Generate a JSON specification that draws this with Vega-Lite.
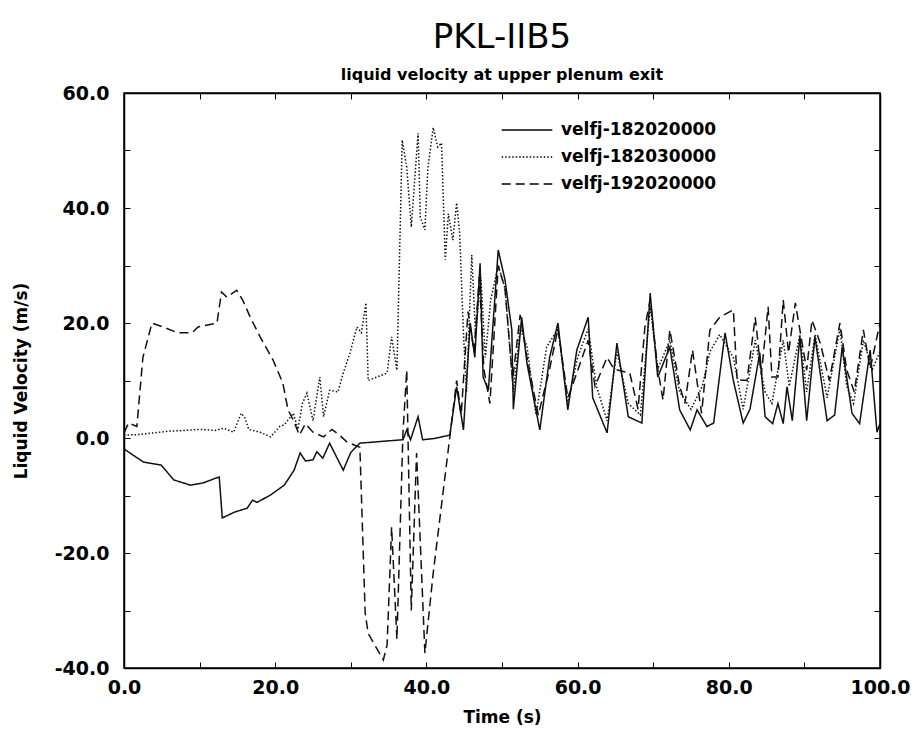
{
  "$schema": "https://vega.github.io/schema/vega-lite/v6.json",
  "width": 756,
  "height": 575,
  "autosize": "none",
  "padding": {"left": 124, "top": 93, "right": 35, "bottom": 63},
  "background": "white",
  "config": {
    "font": "DejaVu Sans",
    "view": {"stroke": "black", "strokeWidth": 1.5},
    "axis": {"grid": false, "labelFlush": false, "domainColor": "black", "domainWidth": 1.5, "tickColor": "black", "tickSize": -6, "tickWidth": 1, "labelColor": "black", "labelFont": "DejaVu Sans", "labelFontWeight": "bold", "labelFontSize": 19, "titleFont": "DejaVu Sans", "titleFontSize": 17, "titleFontWeight": "bold", "titleColor": "black"}
  },
  "title": {"text": "PKL-IIB5", "subtitle": "liquid velocity at upper plenum exit", "anchor": "middle", "font": "DejaVu Sans", "fontSize": 34, "fontWeight": "normal", "color": "black", "subtitleFont": "DejaVu Sans", "subtitleFontSize": 16, "subtitleFontWeight": "bold", "subtitleColor": "black", "offset": 1, "subtitlePadding": 12},
  "data": {"values": [
    {"t":0,"series":"velfj-182020000","v":-1.9},{"t":1,"series":"velfj-182020000","v":-2.8},{"t":2.6,"series":"velfj-182020000","v":-4.2},{"t":4.9,"series":"velfj-182020000","v":-4.7},{"t":6.6,"series":"velfj-182020000","v":-7.3},{"t":8.8,"series":"velfj-182020000","v":-8.2},{"t":10.5,"series":"velfj-182020000","v":-7.8},{"t":12.1,"series":"velfj-182020000","v":-7.0},{"t":12.6,"series":"velfj-182020000","v":-6.8},{"t":13.0,"series":"velfj-182020000","v":-13.9},{"t":14.6,"series":"velfj-182020000","v":-12.9},{"t":16.3,"series":"velfj-182020000","v":-12.2},{"t":17.0,"series":"velfj-182020000","v":-10.8},{"t":17.6,"series":"velfj-182020000","v":-11.2},{"t":19.4,"series":"velfj-182020000","v":-9.9},{"t":21.2,"series":"velfj-182020000","v":-8.2},{"t":22.5,"series":"velfj-182020000","v":-5.6},{"t":23.3,"series":"velfj-182020000","v":-2.6},{"t":24.0,"series":"velfj-182020000","v":-4.0},{"t":25.0,"series":"velfj-182020000","v":-3.8},{"t":25.5,"series":"velfj-182020000","v":-2.4},{"t":26.3,"series":"velfj-182020000","v":-3.5},{"t":27.2,"series":"velfj-182020000","v":-0.9},{"t":28.0,"series":"velfj-182020000","v":-3.0},{"t":29.0,"series":"velfj-182020000","v":-5.6},{"t":30.0,"series":"velfj-182020000","v":-2.5},{"t":31.2,"series":"velfj-182020000","v":-0.9},{"t":34.0,"series":"velfj-182020000","v":-0.6},{"t":36.9,"series":"velfj-182020000","v":-0.3},{"t":37.4,"series":"velfj-182020000","v":1.4},{"t":37.9,"series":"velfj-182020000","v":-0.3},{"t":38.9,"series":"velfj-182020000","v":3.7},{"t":39.5,"series":"velfj-182020000","v":-0.3},{"t":41.0,"series":"velfj-182020000","v":-0.1},{"t":43.1,"series":"velfj-182020000","v":0.5},{"t":44.0,"series":"velfj-182020000","v":8.9},{"t":44.9,"series":"velfj-182020000","v":1.4},{"t":45.8,"series":"velfj-182020000","v":20},{"t":46.4,"series":"velfj-182020000","v":14},{"t":47.1,"series":"velfj-182020000","v":30.4},{"t":47.5,"series":"velfj-182020000","v":10.6},{"t":48.2,"series":"velfj-182020000","v":8.3},{"t":49.5,"series":"velfj-182020000","v":32.7},{"t":50.4,"series":"velfj-182020000","v":27.5},{"t":51.3,"series":"velfj-182020000","v":18.8},{"t":51.5,"series":"velfj-182020000","v":5},{"t":52.6,"series":"velfj-182020000","v":21},{"t":53.3,"series":"velfj-182020000","v":13},{"t":55.0,"series":"velfj-182020000","v":1.4},{"t":56.3,"series":"velfj-182020000","v":14},{"t":57.4,"series":"velfj-182020000","v":20},{"t":58.7,"series":"velfj-182020000","v":4.9},{"t":59.9,"series":"velfj-182020000","v":15.3},{"t":61.4,"series":"velfj-182020000","v":21},{"t":62.0,"series":"velfj-182020000","v":7},{"t":63.9,"series":"velfj-182020000","v":0.9},{"t":65.2,"series":"velfj-182020000","v":16.5},{"t":66.7,"series":"velfj-182020000","v":3.7},{"t":68.5,"series":"velfj-182020000","v":2.6},{"t":69.6,"series":"velfj-182020000","v":25.2},{"t":70.6,"series":"velfj-182020000","v":10.6},{"t":72.2,"series":"velfj-182020000","v":15.8},{"t":73.5,"series":"velfj-182020000","v":4.9},{"t":74.9,"series":"velfj-182020000","v":1.4},{"t":75.8,"series":"velfj-182020000","v":4.9},{"t":77.1,"series":"velfj-182020000","v":2.0},{"t":78.0,"series":"velfj-182020000","v":2.6},{"t":79.5,"series":"velfj-182020000","v":18.3},{"t":80.6,"series":"velfj-182020000","v":10},{"t":81.9,"series":"velfj-182020000","v":2.6},{"t":82.8,"series":"velfj-182020000","v":5},{"t":84.1,"series":"velfj-182020000","v":14.8},{"t":84.8,"series":"velfj-182020000","v":3.7},{"t":85.8,"series":"velfj-182020000","v":2.5},{"t":86.5,"series":"velfj-182020000","v":6},{"t":87.2,"series":"velfj-182020000","v":2.5},{"t":87.7,"series":"velfj-182020000","v":8.9},{"t":88.4,"series":"velfj-182020000","v":3},{"t":89.4,"series":"velfj-182020000","v":17.6},{"t":90.3,"series":"velfj-182020000","v":3},{"t":91.4,"series":"velfj-182020000","v":17.6},{"t":93.0,"series":"velfj-182020000","v":3},{"t":94.0,"series":"velfj-182020000","v":4},{"t":95.0,"series":"velfj-182020000","v":15.8},{"t":96.3,"series":"velfj-182020000","v":4.3},{"t":97.3,"series":"velfj-182020000","v":2.5},{"t":98.7,"series":"velfj-182020000","v":15.3},{"t":99.6,"series":"velfj-182020000","v":1},{"t":100,"series":"velfj-182020000","v":2.5},

    {"t":0,"series":"velfj-182030000","v":0.5},{"t":2,"series":"velfj-182030000","v":0.6},{"t":4,"series":"velfj-182030000","v":0.9},{"t":6,"series":"velfj-182030000","v":1.2},{"t":8,"series":"velfj-182030000","v":1.3},{"t":10,"series":"velfj-182030000","v":1.5},{"t":12,"series":"velfj-182030000","v":1.3},{"t":13.2,"series":"velfj-182030000","v":1.7},{"t":14.5,"series":"velfj-182030000","v":1.0},{"t":15.5,"series":"velfj-182030000","v":4.3},{"t":16.0,"series":"velfj-182030000","v":3.5},{"t":16.5,"series":"velfj-182030000","v":1.5},{"t":18,"series":"velfj-182030000","v":1.0},{"t":19.4,"series":"velfj-182030000","v":0.2},{"t":20.6,"series":"velfj-182030000","v":2.0},{"t":21.2,"series":"velfj-182030000","v":2.3},{"t":22.4,"series":"velfj-182030000","v":4.3},{"t":23,"series":"velfj-182030000","v":1.5},{"t":23.6,"series":"velfj-182030000","v":6},{"t":24.2,"series":"velfj-182030000","v":7.8},{"t":25,"series":"velfj-182030000","v":3},{"t":25.9,"series":"velfj-182030000","v":10.6},{"t":26.4,"series":"velfj-182030000","v":3.7},{"t":27.2,"series":"velfj-182030000","v":8.3},{"t":28.3,"series":"velfj-182030000","v":8},{"t":29,"series":"velfj-182030000","v":11.3},{"t":29.9,"series":"velfj-182030000","v":14.8},{"t":30.8,"series":"velfj-182030000","v":19.3},{"t":31.4,"series":"velfj-182030000","v":18.3},{"t":32,"series":"velfj-182030000","v":23.5},{"t":32.3,"series":"velfj-182030000","v":10},{"t":34.8,"series":"velfj-182030000","v":11.3},{"t":35.4,"series":"velfj-182030000","v":17.6},{"t":36.1,"series":"velfj-182030000","v":11.8},{"t":36.8,"series":"velfj-182030000","v":51.8},{"t":37.4,"series":"velfj-182030000","v":47.1},{"t":38,"series":"velfj-182030000","v":36.7},{"t":38.9,"series":"velfj-182030000","v":53},{"t":39.2,"series":"velfj-182030000","v":38.4},{"t":39.8,"series":"velfj-182030000","v":36.2},{"t":40.2,"series":"velfj-182030000","v":47},{"t":40.9,"series":"velfj-182030000","v":54},{"t":41.5,"series":"velfj-182030000","v":50.6},{"t":42,"series":"velfj-182030000","v":51.3},{"t":42.5,"series":"velfj-182030000","v":31},{"t":42.9,"series":"velfj-182030000","v":39},{"t":43.5,"series":"velfj-182030000","v":34.4},{"t":44,"series":"velfj-182030000","v":40.9},{"t":44.4,"series":"velfj-182030000","v":35.6},{"t":44.9,"series":"velfj-182030000","v":18.3},{"t":45.3,"series":"velfj-182030000","v":8},{"t":46,"series":"velfj-182030000","v":31.8},{"t":46.5,"series":"velfj-182030000","v":18},{"t":47.2,"series":"velfj-182030000","v":28},{"t":47.8,"series":"velfj-182030000","v":14},{"t":48.5,"series":"velfj-182030000","v":24},{"t":49.5,"series":"velfj-182030000","v":30},{"t":50.4,"series":"velfj-182030000","v":26},{"t":51.5,"series":"velfj-182030000","v":8},{"t":52.4,"series":"velfj-182030000","v":19},{"t":53.3,"series":"velfj-182030000","v":16},{"t":54.5,"series":"velfj-182030000","v":4},{"t":55.9,"series":"velfj-182030000","v":15.8},{"t":57.4,"series":"velfj-182030000","v":19},{"t":58.7,"series":"velfj-182030000","v":6},{"t":60,"series":"velfj-182030000","v":14},{"t":61.4,"series":"velfj-182030000","v":19},{"t":62.5,"series":"velfj-182030000","v":9},{"t":63.9,"series":"velfj-182030000","v":3},{"t":65.2,"series":"velfj-182030000","v":15},{"t":66.7,"series":"velfj-182030000","v":6},{"t":68.3,"series":"velfj-182030000","v":4},{"t":69.6,"series":"velfj-182030000","v":23},{"t":70.6,"series":"velfj-182030000","v":12},{"t":72.2,"series":"velfj-182030000","v":17},{"t":73.5,"series":"velfj-182030000","v":8},{"t":75,"series":"velfj-182030000","v":5},{"t":76.5,"series":"velfj-182030000","v":9},{"t":77.5,"series":"velfj-182030000","v":15},{"t":78.8,"series":"velfj-182030000","v":18},{"t":80.6,"series":"velfj-182030000","v":14},{"t":81.9,"series":"velfj-182030000","v":5},{"t":83.5,"series":"velfj-182030000","v":17},{"t":84.8,"series":"velfj-182030000","v":8},{"t":85.7,"series":"velfj-182030000","v":6},{"t":87.2,"series":"velfj-182030000","v":17},{"t":88,"series":"velfj-182030000","v":9},{"t":89.4,"series":"velfj-182030000","v":18},{"t":90.3,"series":"velfj-182030000","v":8},{"t":91.4,"series":"velfj-182030000","v":18},{"t":93,"series":"velfj-182030000","v":7},{"t":94.7,"series":"velfj-182030000","v":19},{"t":95.6,"series":"velfj-182030000","v":9},{"t":96.5,"series":"velfj-182030000","v":6},{"t":97.8,"series":"velfj-182030000","v":17},{"t":99,"series":"velfj-182030000","v":12},{"t":100,"series":"velfj-182030000","v":15},

    {"t":0,"series":"velfj-192020000","v":0.9},{"t":0.6,"series":"velfj-192020000","v":2.6},{"t":1.7,"series":"velfj-192020000","v":2.0},{"t":2.5,"series":"velfj-192020000","v":14},{"t":3.7,"series":"velfj-192020000","v":20},{"t":5.2,"series":"velfj-192020000","v":19.3},{"t":7.1,"series":"velfj-192020000","v":18.3},{"t":9,"series":"velfj-192020000","v":18.3},{"t":9.8,"series":"velfj-192020000","v":19.3},{"t":12.3,"series":"velfj-192020000","v":20},{"t":12.9,"series":"velfj-192020000","v":25.4},{"t":13.6,"series":"velfj-192020000","v":24.5},{"t":14.9,"series":"velfj-192020000","v":25.7},{"t":15.7,"series":"velfj-192020000","v":24},{"t":16.7,"series":"velfj-192020000","v":21},{"t":18,"series":"velfj-192020000","v":17.6},{"t":19.7,"series":"velfj-192020000","v":13.6},{"t":21,"series":"velfj-192020000","v":9.6},{"t":21.7,"series":"velfj-192020000","v":4.9},{"t":22.4,"series":"velfj-192020000","v":3.1},{"t":23.2,"series":"velfj-192020000","v":0.5},{"t":24,"series":"velfj-192020000","v":2.5},{"t":25,"series":"velfj-192020000","v":1.0},{"t":26.4,"series":"velfj-192020000","v":0.2},{"t":27.5,"series":"velfj-192020000","v":1.5},{"t":28.5,"series":"velfj-192020000","v":0.5},{"t":29.5,"series":"velfj-192020000","v":-0.7},{"t":31.2,"series":"velfj-192020000","v":-1.6},{"t":31.9,"series":"velfj-192020000","v":-30.4},{"t":32.3,"series":"velfj-192020000","v":-34},{"t":34.3,"series":"velfj-192020000","v":-38.6},{"t":34.8,"series":"velfj-192020000","v":-36},{"t":35.4,"series":"velfj-192020000","v":-15.5},{"t":36.1,"series":"velfj-192020000","v":-35},{"t":36.9,"series":"velfj-192020000","v":0.9},{"t":37.4,"series":"velfj-192020000","v":11.8},{"t":38,"series":"velfj-192020000","v":-30},{"t":38.7,"series":"velfj-192020000","v":-2.6},{"t":39.8,"series":"velfj-192020000","v":-37.4},{"t":40.9,"series":"velfj-192020000","v":-23.5},{"t":43.1,"series":"velfj-192020000","v":0.2},{"t":44,"series":"velfj-192020000","v":10},{"t":44.6,"series":"velfj-192020000","v":4},{"t":45.5,"series":"velfj-192020000","v":22},{"t":46.3,"series":"velfj-192020000","v":15},{"t":47,"series":"velfj-192020000","v":28},{"t":47.6,"series":"velfj-192020000","v":12},{"t":48.4,"series":"velfj-192020000","v":6},{"t":49.5,"series":"velfj-192020000","v":30},{"t":50.4,"series":"velfj-192020000","v":26},{"t":51.4,"series":"velfj-192020000","v":10},{"t":52.4,"series":"velfj-192020000","v":21.4},{"t":53.3,"series":"velfj-192020000","v":14},{"t":54.8,"series":"velfj-192020000","v":4},{"t":56.3,"series":"velfj-192020000","v":12},{"t":57.4,"series":"velfj-192020000","v":19},{"t":58.7,"series":"velfj-192020000","v":7},{"t":59.9,"series":"velfj-192020000","v":11.3},{"t":61.4,"series":"velfj-192020000","v":17},{"t":62.3,"series":"velfj-192020000","v":9},{"t":63.9,"series":"velfj-192020000","v":14},{"t":64.8,"series":"velfj-192020000","v":12},{"t":66.9,"series":"velfj-192020000","v":11.3},{"t":68,"series":"velfj-192020000","v":5},{"t":68.9,"series":"velfj-192020000","v":19.3},{"t":69.6,"series":"velfj-192020000","v":24},{"t":70.6,"series":"velfj-192020000","v":12},{"t":71.3,"series":"velfj-192020000","v":6.6},{"t":72.2,"series":"velfj-192020000","v":18.8},{"t":73.5,"series":"velfj-192020000","v":9},{"t":74.2,"series":"velfj-192020000","v":6},{"t":75.2,"series":"velfj-192020000","v":15.3},{"t":76.4,"series":"velfj-192020000","v":4.3},{"t":77.5,"series":"velfj-192020000","v":18.8},{"t":78.8,"series":"velfj-192020000","v":21},{"t":80.6,"series":"velfj-192020000","v":22.3},{"t":81.1,"series":"velfj-192020000","v":10.1},{"t":82.4,"series":"velfj-192020000","v":10},{"t":83.5,"series":"velfj-192020000","v":21},{"t":84.3,"series":"velfj-192020000","v":11},{"t":85.2,"series":"velfj-192020000","v":22.8},{"t":85.7,"series":"velfj-192020000","v":10.6},{"t":86.5,"series":"velfj-192020000","v":10.6},{"t":87.2,"series":"velfj-192020000","v":24},{"t":87.9,"series":"velfj-192020000","v":14.8},{"t":88.8,"series":"velfj-192020000","v":23.5},{"t":90.3,"series":"velfj-192020000","v":11.8},{"t":91,"series":"velfj-192020000","v":20.5},{"t":92.1,"series":"velfj-192020000","v":16.5},{"t":93.3,"series":"velfj-192020000","v":10},{"t":94.7,"series":"velfj-192020000","v":20},{"t":95.6,"series":"velfj-192020000","v":11.8},{"t":96.6,"series":"velfj-192020000","v":8},{"t":97.8,"series":"velfj-192020000","v":18.8},{"t":98.7,"series":"velfj-192020000","v":12},{"t":99.6,"series":"velfj-192020000","v":17.6},{"t":100,"series":"velfj-192020000","v":20}
  ]},
  "layer": [
    {
      "mark": {"type": "line", "color": "#111111", "strokeWidth": 1.5, "clip": true},
      "encoding": {
        "x": {"field": "t", "type": "quantitative", "scale": {"domain": [0, 100], "nice": false}, "axis": {"title": "Time (s)", "values": [0,10,20,30,40,50,60,70,80,90,100], "labelExpr": "datum.value % 20 == 0 ? format(datum.value, '.1f') : ''", "labelPadding": 16, "titlePadding": 12}},
        "y": {"field": "v", "type": "quantitative", "scale": {"domain": [-40, 60], "nice": false}, "axis": {"title": "Liquid Velocity (m/s)", "values": [-40,-30,-20,-10,0,10,20,30,40,50,60], "labelExpr": "datum.value % 20 == 0 ? replace(format(datum.value, '.1f'), '\u2212', '-') : ''", "labelPadding": 21, "titlePadding": 24}},
        "strokeDash": {"field": "series", "type": "nominal", "scale": {"domain": ["velfj-182020000", "velfj-182030000", "velfj-192020000"], "range": [[1, 0], [1.5, 2], [9, 5]]}, "legend": {"title": null, "orient": "none", "legendX": 386, "legendY": 20, "symbolType": "M-1.6,0H1.6", "symbolSize": 1000, "symbolStrokeWidth": 1.5, "symbolStrokeColor": "black", "symbolFillColor": "transparent", "labelFontSize": 17, "labelFontWeight": "bold", "labelColor": "black", "labelFont": "DejaVu Sans", "rowPadding": 2, "labelOffset": 17}}
      }
    },
    {
      "mark": {"type": "line", "opacity": 0},
      "encoding": {
        "x": {"field": "t", "type": "quantitative", "scale": {"domain": [0, 100], "nice": false}, "axis": {"orient": "top", "title": null, "labels": false, "values": [0,10,20,30,40,50,60,70,80,90,100]}},
        "y": {"field": "v", "type": "quantitative", "scale": {"domain": [-40, 60], "nice": false}, "axis": {"orient": "right", "title": null, "labels": false, "values": [-40,-30,-20,-10,0,10,20,30,40,50,60]}},
        "detail": {"field": "series"}
      }
    }
  ],
  "resolve": {"axis": {"x": "independent", "y": "independent"}}
}
